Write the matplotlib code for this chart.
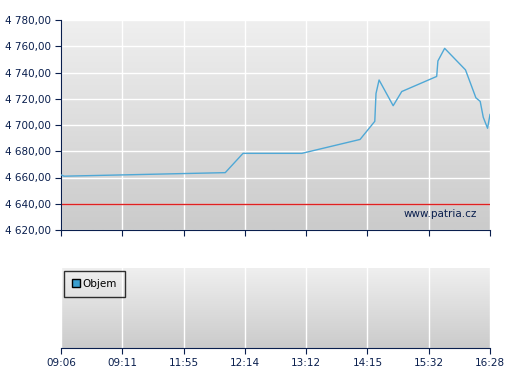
import numpy as np
import matplotlib.pyplot as plt
from matplotlib.lines import Line2D

# ===== data =====
time_labels = ["09:06", "09:11", "11:55", "12:14", "13:12", "14:15", "15:32", "16:28"]
# x = position along the tick index (0..7)
pos = [0.00, 0.05, 2.68, 2.97, 3.93, 4.88, 5.12, 5.14, 5.19, 5.42, 5.56,
       6.13, 6.15, 6.26, 6.60, 6.77, 6.84, 6.89, 6.96, 7.00]
price = [4662.0, 4661.0, 4663.7, 4678.4, 4678.4, 4689.0, 4702.8, 4724.0, 4734.3,
         4714.7, 4725.5, 4737.0, 4748.8, 4758.4, 4742.0, 4720.7, 4718.0, 4705.9,
         4697.5, 4708.0]
ref_level = 4640.0
y_ticks = [4620, 4640, 4660, 4680, 4700, 4720, 4740, 4760, 4780]

navy = "#0a1f4e"
line_col = "#4fa8d6"
W, H = 507, 380


def fmt(v):
    s = f"{v:,.2f}"
    return s.replace(",", " ").replace(".", ",")


def gradient_bg(ax):
    grad = np.linspace(0, 1, 100).reshape(-1, 1)
    ax.imshow(grad, extent=[0, 1, 0, 1], transform=ax.transAxes, aspect="auto",
              cmap=plt.matplotlib.colors.LinearSegmentedColormap.from_list(
                  "g", ["#cbcbcb", "#efefef"]), origin="lower", zorder=0)


def style(ax):
    for s in ["top", "right"]:
        ax.spines[s].set_visible(False)
    for s in ["left", "bottom"]:
        ax.spines[s].set_color(navy)
    ax.tick_params(colors=navy, labelcolor=navy, direction="out", length=4,
                   labelsize=7.5)
    ax.set_xlim(0, len(time_labels) - 1)
    ax.set_xticks(range(len(time_labels)))
    ax.grid(True, color="white", linewidth=1.0)
    ax.set_axisbelow(True)


fig = plt.figure(figsize=(W / 100, H / 100), dpi=100)

# price panel
ax = fig.add_axes([61 / W, 1 - 230 / H, (490 - 61) / W, 210 / H])
gradient_bg(ax)
style(ax)
ax.set_ylim(4620, 4780)
ax.set_yticks(y_ticks)
ax.set_yticklabels([fmt(v) for v in y_ticks])
ax.set_xticklabels([])
ax.plot(pos, price, color=line_col, linewidth=1.0, zorder=3)
ax.axhline(ref_level, color="#e02020", linewidth=1.0, zorder=2)
ax.text(0.97, 0.075, "www.patria.cz", transform=ax.transAxes, ha="right",
        va="center", color=navy, fontsize=7.5, zorder=4)

# volume panel
ax2 = fig.add_axes([61 / W, 1 - 348 / H, (490 - 61) / W, 80 / H])
gradient_bg(ax2)
style(ax2)
ax2.set_ylim(0, 1)
ax2.set_yticks([])
ax2.set_xticklabels(time_labels)
ax2.spines["left"].set_visible(False)
handle = Line2D([], [], marker="s", linestyle="none", markersize=6,
                markerfacecolor="#3a9fd0", markeredgecolor="black")
leg = ax2.legend([handle], ["Objem"], loc="upper left", fontsize=7.5,
                 frameon=True, fancybox=False, handlelength=0.7,
                 handletextpad=0.3, borderpad=0.75, borderaxespad=0.3,
                 bbox_to_anchor=(0.0, 1.0))
leg.get_frame().set_edgecolor("black")
leg.get_frame().set_facecolor("none")
leg.get_frame().set_linewidth(1.0)

fig.savefig("out.png", dpi=100)
